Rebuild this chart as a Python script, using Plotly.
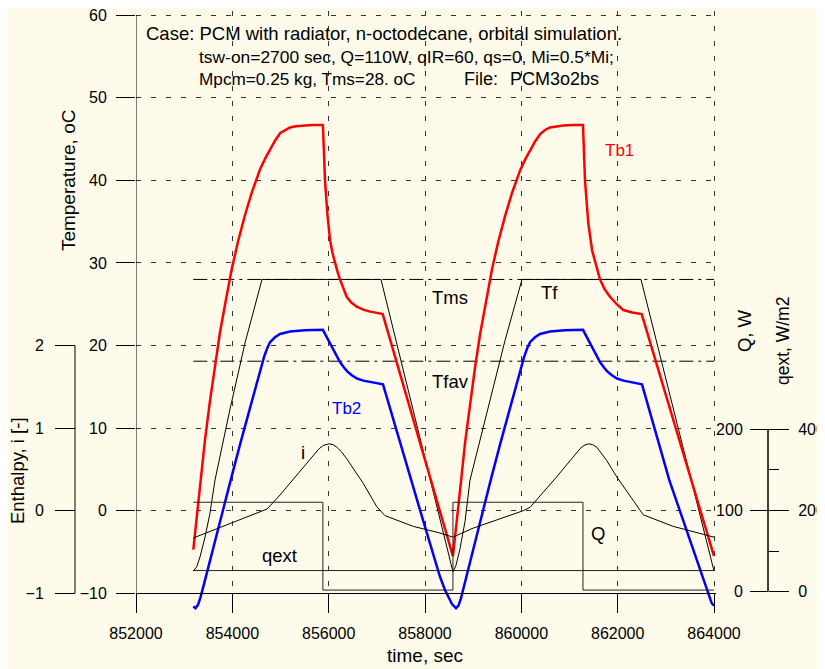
import plotly.graph_objects as go

# ---------------- data ----------------
x_ticks = [852000, 854000, 856000, 858000, 860000, 862000, 864000]
temp_ticks = [-10, 0, 10, 20, 30, 40, 50, 60]
enth_ticks = [-1, 0, 1, 2]
q_ticks = [0, 100, 200]
qext_ticks = [0, 200, 400]
qext_minor = [100, 300]

t_tb1 = [853190, 853246, 853343, 853433, 853536, 853640, 853744, 853869, 853993, 854118,
         854263, 854408, 854574, 854678, 854782, 854886, 854990, 855093, 855197, 855322,
         855473, 855654, 855880, 855924, 855972, 856028, 856080, 856131, 856180, 856235,
         856300, 856374, 856470, 856582, 856720, 856858, 857000, 857122,
         858580, 858636, 858743, 858833, 858936, 859040, 859144, 859269, 859393, 859518,
         859663, 859808, 859974, 860078, 860182, 860286, 860390, 860493, 860597, 860722,
         860873, 861054, 861280, 861322, 861390, 861470, 861565, 861633, 861730, 861841,
         861980, 862117, 862300, 862499, 864000]
tb1 = [-4.7, -1.6, 3.7, 8.6, 13.3, 17.6, 21.6, 25.6, 29.4, 32.6,
       35.8, 38.6, 41.3, 42.6, 43.7, 44.8, 45.7, 46.1, 46.4, 46.55,
       46.65, 46.7, 46.7, 40.0, 36.0, 32.8, 31.2, 30.0, 29.0, 28.0,
       26.9, 25.9, 25.2, 24.7, 24.35, 24.1, 23.95, 23.8,
       -5.5, -2.2, 3.3, 8.3, 13.0, 17.4, 21.4, 25.5, 29.3, 32.5,
       35.7, 38.5, 41.2, 42.5, 43.6, 44.7, 45.6, 46.1, 46.4, 46.55,
       46.65, 46.7, 46.7, 40.0, 34.8, 31.5, 29.5, 28.0, 26.8, 25.9,
       25.0, 24.3, 24.0, 23.8, -5.5]

t_tb2 = [853190, 853235, 853287, 853339, 853433, 853536, 853744, 853966, 854159, 854367,
         854533, 854595, 854657, 854720, 854782, 854886, 854990, 855197, 855500, 855880,
         855945, 856028, 856096, 856165, 856235, 856310, 856381, 856480, 856588, 856720,
         856858, 857128, 857896, 858311, 858415, 858478, 858560, 858644, 858695, 858747,
         858831, 858934, 859142, 859364, 859557, 859765, 859931, 859993, 860056, 860118,
         860180, 860284, 860388, 860596, 860900, 861280, 861342, 861425, 861494, 861563,
         861633, 861708, 861778, 861880, 861986, 862120, 862256, 862505, 863072, 863502,
         863710, 863952, 864000]
tb2 = [-11.6, -11.8, -11.4, -10.5, -8.4, -6.0, -1.3, 3.7, 8.0, 12.4,
       16.0, 17.4, 18.6, 19.6, 20.4, 21.0, 21.4, 21.7, 21.85, 21.9,
       21.2, 20.2, 19.5, 18.7, 18.0, 17.4, 16.9, 16.4, 16.0, 15.75,
       15.6, 15.3, 0.1, -8.0, -9.6, -10.4, -11.3, -11.8, -11.5, -10.6,
       -8.6, -6.2, -1.5, 3.7, 8.0, 12.4, 16.0, 17.4, 18.6, 19.6,
       20.4, 21.0, 21.4, 21.7, 21.85, 21.9, 21.2, 20.2, 19.5, 18.7,
       18.0, 17.4, 16.9, 16.4, 16.0, 15.75, 15.6, 15.3, 3.7, -3.7,
       -7.3, -11.2, -11.5]

t_tf = [853190, 853260, 853329, 853433, 853536, 853640, 853952, 854263, 854616, 857086,
        858580, 858644, 858727, 858831, 858934, 859349, 859661, 860014, 862484, 864000]
tf = [-7.3, -6.8, -5.6, -3.2, -0.3, 3.7, 12.3, 20.3, 28.0, 28.0,
      -7.4, -6.6, -4.6, -1.3, 3.7, 13.5, 20.6, 28.0, 28.0, -7.3]

t_i = [853190, 854720, 854990, 855336, 855681, 855800, 855889, 856007, 856090, 856167,
       856270, 856374, 856719, 856997, 857170, 857757, 858311, 858580, 859003, 860041,
       860180, 860734, 861218, 861300, 861390, 861480, 861565, 861770, 861980, 862532,
       863155, 864000]
enth = [-0.33, 0.02, 0.19, 0.43, 0.67, 0.75, 0.79, 0.81, 0.80, 0.77,
        0.71, 0.63, 0.33, 0.05, -0.06, -0.19, -0.27, -0.32, -0.21, 0.0,
        0.04, 0.41, 0.75, 0.79, 0.81, 0.80, 0.77, 0.61, 0.41, -0.05,
        -0.19, -0.32]

t_q = [853190, 855880, 858580, 861280, 864000]
q_w = [110, 2, 110, 2, 2]

t_qext = [853190, 864000]
qext = [52, 52]

t_lev = [853190, 864000]
tms = [28.0, 28.0]
tfav = [18.1, 18.1]

# ---------------- layout helpers ----------------
# The page body has an 8 px margin, so the figure is 8 px smaller and every
# reference pixel position is shifted by 8 px.
OFF = 8
W, H = 825 - OFF, 669 - OFF
PLOT_L, PLOT_R, PLOT_T, PLOT_B = 20, 820, 10.87, 612      # reference pixels
L, R = PLOT_L - OFF, W - (PLOT_R - OFF)
T, B = PLOT_T - OFF, H - (PLOT_B - OFF)
PW, PH = PLOT_R - PLOT_L, PLOT_B - PLOT_T


def px(x):
    return (x - PLOT_L) / PW


def py(y):
    return (PLOT_B - y) / PH


BG = '#fffbea'
FONT = 'Liberation Sans, Arial, sans-serif'
GRID = '#333333'
DASH = '5px,10px'
DASHDOT = '14px,5px,3px,5px'
Y_LO, Y_HI = -12.264, 60.5

fig = go.Figure()
fig.add_trace(go.Scatter(x=t_lev, y=tms, mode='lines', yaxis='y',
                         line=dict(color='black', width=1, dash=DASHDOT)))
fig.add_trace(go.Scatter(x=t_lev, y=tfav, mode='lines', yaxis='y',
                         line=dict(color='black', width=1, dash=DASHDOT)))
fig.add_trace(go.Scatter(x=t_qext, y=qext, mode='lines', yaxis='y4',
                         line=dict(color='#222222', width=1)))
fig.add_trace(go.Scatter(x=t_q, y=q_w, mode='lines', yaxis='y3',
                         line=dict(color='#222222', width=1, shape='hv')))
fig.add_trace(go.Scatter(x=t_i, y=enth, mode='lines', yaxis='y2',
                         line=dict(color='black', width=1)))
fig.add_trace(go.Scatter(x=t_tf, y=tf, mode='lines', yaxis='y',
                         line=dict(color='black', width=1)))
fig.add_trace(go.Scatter(x=t_tb2, y=tb2, mode='lines', yaxis='y',
                         line=dict(color='#0000ff', width=2.5)))
fig.add_trace(go.Scatter(x=t_tb1, y=tb1, mode='lines', yaxis='y',
                         line=dict(color='#ff0000', width=2.5)))

tickfont = dict(family=FONT, size=16, color='black')

fig.update_layout(
    width=W, height=H,
    margin=dict(l=L, r=R, t=T, b=B, autoexpand=False),
    paper_bgcolor=BG, plot_bgcolor=BG,
    showlegend=False,
    font=dict(family=FONT, size=16, color='black'),
    xaxis=dict(domain=[px(136), px(715.5)], range=[852000, 864031],
               anchor='free', position=py(593.3),
               showline=True, linecolor='black', linewidth=1,
               ticks='outside', ticklen=19, tickcolor='black', tickwidth=1,
               tickvals=x_ticks, tickformat='d', tickfont=tickfont,
               ticklabelstandoff=6, ticklabeloverflow='allow',
               showgrid=True, gridcolor=GRID, griddash=DASH, gridwidth=1,
               zeroline=False),
    yaxis=dict(range=[Y_LO, Y_HI],
               showline=False,
               ticks='outside', ticklen=19, tickcolor='black', tickwidth=1,
               tickvals=temp_ticks, tickfont=tickfont, ticklabelstandoff=6,
               ticklabeloverflow='allow',
               showgrid=True, gridcolor=GRID, griddash=DASH, gridwidth=1,
               zeroline=False),
    yaxis2=dict(overlaying='y', anchor='free', position=px(75), side='left',
                range=[-1.2264, 6.05], tickvals=enth_ticks,
                ticks='outside', ticklen=20, tickcolor='black', tickwidth=1,
                tickfont=tickfont, ticklabelstandoff=8, ticklabeloverflow='allow',
                showline=False, showgrid=False, zeroline=False),
    yaxis3=dict(overlaying='y', anchor='free', position=px(768), side='left',
                range=[-24.95, 714.0], tickvals=q_ticks,
                ticks='outside', ticklen=18, tickcolor='black', tickwidth=1,
                tickfont=tickfont, ticklabelstandoff=4, ticklabeloverflow='allow',
                showline=False, showgrid=False, zeroline=False),
    yaxis4=dict(overlaying='y', anchor='free', position=px(768), side='right',
                range=[-49.9, 1428.0], tickvals=qext_ticks,
                ticks='outside', ticklen=20, tickcolor='black', tickwidth=1,
                minor=dict(tickvals=qext_minor, ticks='outside', ticklen=10,
                           tickcolor='black', tickwidth=1, showgrid=False),
                tickfont=tickfont, ticklabelstandoff=6, ticklabeloverflow='allow',
                showline=False, showgrid=False, zeroline=False),
)

# axis lines (temperature, enthalpy, qext)
fig.add_shape(type='line', xref='x', yref='y', x0=852000, x1=852000,
              y0=Y_LO, y1=60, line=dict(color='black', width=1))
fig.add_shape(type='line', xref='paper', yref='y2', x0=px(75), x1=px(75),
              y0=-1, y1=2, line=dict(color='black', width=1))
fig.add_shape(type='line', xref='paper', yref='y4', x0=px(768), x1=px(768),
              y0=0, y1=400, line=dict(color='black', width=1.5))


def ann(text, x, y, color='black', angle=0, xanchor='center', size=18.5):
    fig.add_annotation(text=text, xref='paper', yref='paper', x=px(x), y=py(y),
                       showarrow=False, xanchor=xanchor, yanchor='middle',
                       textangle=angle, font=dict(family=FONT, size=size, color=color))


ann('Temperature, oC', 68, 180, angle=-90, size=19)
ann('Enthalpy, i [-]', 17, 471, angle=-90, size=18.5)
ann('time, sec', 425, 656, size=19)
ann('Q, W', 744, 331, angle=-90)
ann('qext, W/m2', 783, 341, angle=-90, size=17.5)

ann('Case: PCM with radiator, n-octodecane, orbital simulation.', 144, 33,
    xanchor='left', size=18.5)
ann('tsw-on=2700 sec, Q=110W, qIR=60, qs=0, Mi=0.5*Mi;', 197, 57,
    xanchor='left', size=17.4)
ann('Mpcm=0.25 kg, Tms=28. oC', 197, 79, xanchor='left', size=17.2)
ann('File:', 462, 79, xanchor='left', size=18)
ann('PCM3o2bs', 508, 79, xanchor='left', size=18)

ann('Tb1', 619, 150, color='#ff0000', size=17)
ann('Tb2', 346, 408, color='#0000ff', size=17)
ann('Tms', 450, 297)
ann('Tf', 549, 292)
ann('Tfav', 451, 381)
ann('i', 303, 452)
ann('qext', 279, 555)
ann('Q', 598, 533)

fig.write_html('out.html')
